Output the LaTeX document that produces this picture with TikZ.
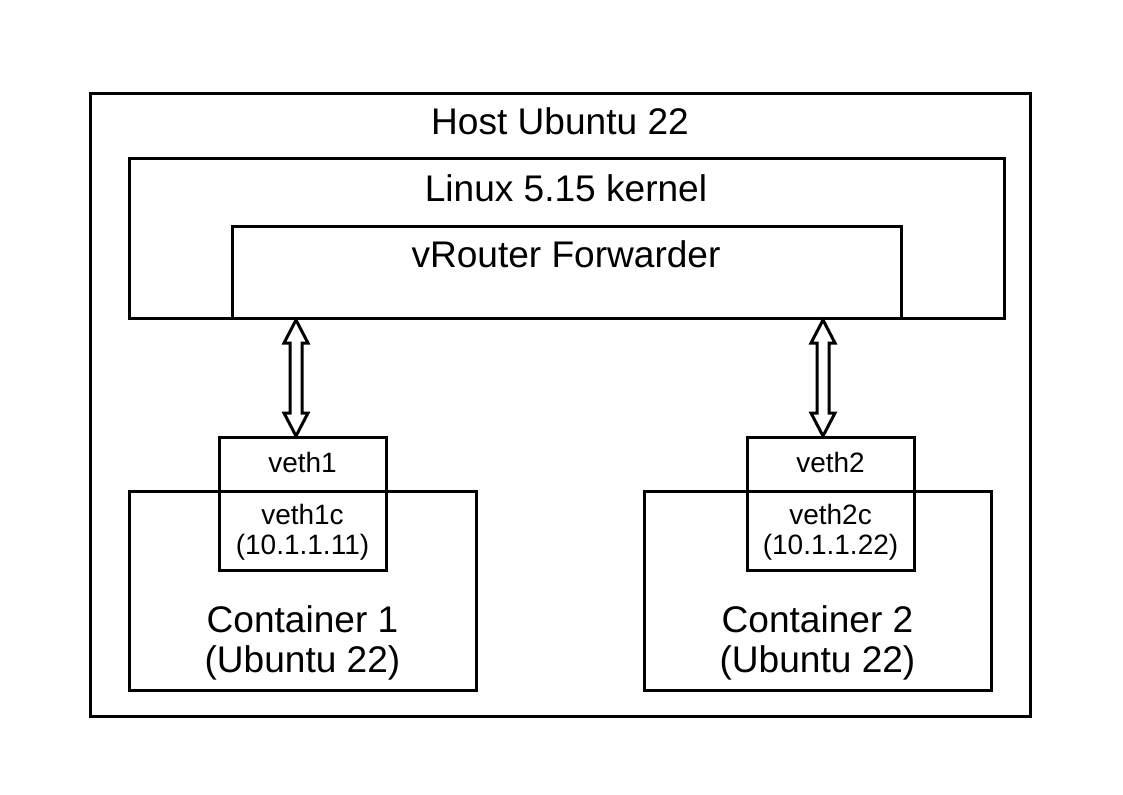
\documentclass[tikz,border=0pt]{standalone}
\usepackage{fontspec}
\setmainfont{Liberation Sans}
\usetikzlibrary{calc}
\begin{document}
\begin{tikzpicture}[x=0.75pt,y=-0.75pt,
  box/.style={draw,line width=2.25pt,anchor=north west,inner sep=0pt,outer sep=0pt},
  big/.style={font=\fontsize{27.8}{33}\selectfont,inner sep=0pt},
  small/.style={font=\fontsize{21}{25}\selectfont,inner sep=0pt},
  arrowshape/.style={draw,line width=2.25pt,fill=white,line join=miter}]
\useasboundingbox (0,0) rectangle (1123,794);
\fill[white] (0,0) rectangle (1123,794);
% boxes
\node[box,minimum width=940*0.75pt,minimum height=623*0.75pt] (host) at (90,93) {};
\node[box,minimum width=875*0.75pt,minimum height=160*0.75pt] (kernel) at (129,158) {};
\node[box,minimum width=669*0.75pt,minimum height=92*0.75pt] (vrouter) at (232,226) {};
\node[box,minimum width=347*0.75pt,minimum height=199*0.75pt] (c1) at (129,491) {};
\node[box,minimum width=347*0.75pt,minimum height=199*0.75pt] (c2) at (644,491) {};
\node[box,minimum width=167*0.75pt,minimum height=133*0.75pt] (veth1) at (219,437) {};
\node[box,minimum width=167*0.75pt,minimum height=133*0.75pt] (veth2) at (747,437) {};
% texts
\node[big] (thost) at (560,121) {Host Ubuntu 22};
\node[big] (tkernel) at (566,188) {Linux 5.15 kernel};
\node[big] (tvrouter) at (566,254) {vRouter Forwarder};
\node[small] (tveth1) at (302.5,462) {veth1};
\node[small] (tveth1c) at (302.5,514) {veth1c};
\node[small] (tip1) at (302.5,547) {(10.1.1.11)};
\node[small] (tveth2) at (830.5,462) {veth2};
\node[small] (tveth2c) at (830.5,514) {veth2c};
\node[small] (tip2) at (830.5,547) {(10.1.1.22)};
\node[big] (tc1a) at (302.5,619) {Container 1};
\node[big] (tc1b) at (302.5,663) {(Ubuntu 22)};
\node[big] (tc2a) at (817.5,619) {Container 2};
\node[big] (tc2b) at (817.5,663) {(Ubuntu 22)};
% arrows
\newcommand{\dblarrowshape}[2]{%
  \draw[arrowshape] (#1) -- ($(#1)+(12,23)$) -- ($(#1)+(6,23)$) -- ($(#2)+(6,-23)$)
    -- ($(#2)+(12,-23)$) -- (#2) -- ($(#2)+(-12,-23)$) -- ($(#2)+(-6,-23)$)
    -- ($(#1)+(-6,23)$) -- ($(#1)+(-12,23)$) -- cycle;}
\coordinate (a1t) at ($(vrouter.south west)+(64,2)$);
\coordinate (a1b) at ($(veth1.north west)+(77,-1)$);
\coordinate (a2t) at ($(vrouter.south west)+(591,2)$);
\coordinate (a2b) at ($(veth2.north west)+(76,-1)$);
\dblarrowshape{a1t}{a1b}
\dblarrowshape{a2t}{a2b}
\end{tikzpicture}
\end{document}
